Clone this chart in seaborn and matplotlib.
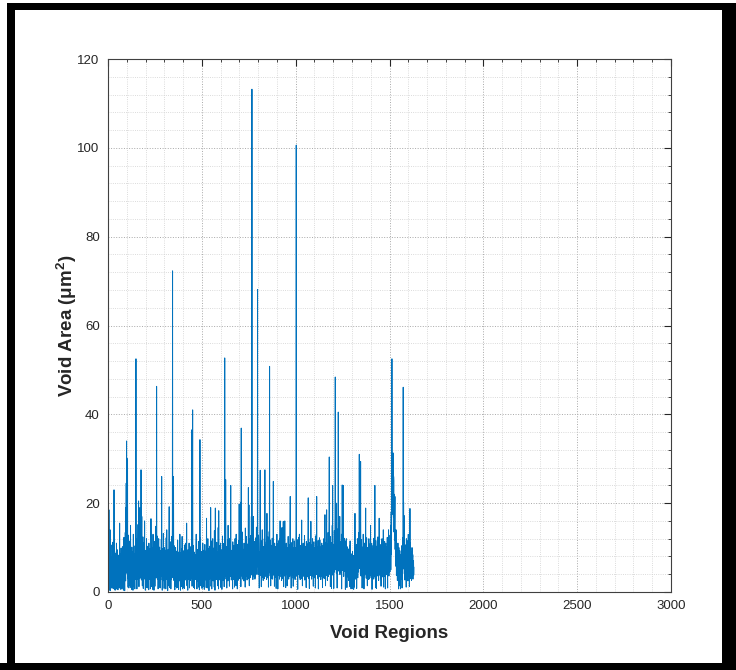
import matplotlib
matplotlib.use("Agg")
import matplotlib.pyplot as plt
import seaborn as sns
import numpy as np
from matplotlib.patches import Rectangle
from matplotlib.ticker import MultipleLocator

# void area per region (um^2), region 1..1630
void_area = [
    14.2, 3.1, 8.5, 1.2, 18.5, 6.3, 0.4, 9.8, 4.1, 2.7, 14.0, 5.2, 0.3, 7.4, 3.3, 10.6, 2.5, 6.1, 0.9, 4.8,
    3.6, 7.9, 0.9, 5.5, 11.2, 1.3, 6.7, 0.8, 4.4, 8.1, 3.0, 23.0, 5.6, 0.6, 9.2, 2.8, 6.4, 0.4, 7.3, 3.9,
    1.1, 5.8, 8.8, 0.7, 11.0, 4.3, 0.7, 6.9, 3.2, 9.5, 1.4, 5.1, 0.5, 7.7, 4.6, 2.9, 8.3, 1.0, 5.9, 3.4,
    6.2, 15.5, 2.6, 4.9, 0.8, 8.6, 3.8, 0.6, 5.3, 9.9, 1.0, 6.6, 4.0, 0.7, 7.1, 3.5, 10.2, 1.2, 5.7, 9.0,
    3.7, 0.4, 6.8, 4.5, 12.3, 2.7, 7.6, 5.0, 0.3, 8.9, 3.1, 13.4, 6.0, 2.5, 19.0, 9.4, 24.5, 11.8, 34.0, 7.2,
    4.2, 9.7, 5.4, 30.0, 3.0, 8.0, 1.1, 6.5, 12.8, 4.7, 0.9, 7.0, 3.6, 9.3, 5.2, 1.4, 11.5, 6.3, 3.3, 15.0,
    5.9, 1.0, 8.4, 4.1, 0.6, 6.8, 10.1, 3.4, 7.5, 2.6, 5.0, 9.1, 0.4, 4.6, 13.0, 6.1, 3.0, 8.7, 1.3, 5.5,
    7.8, 3.9, 0.7, 10.4, 4.8, 2.9, 9.6, 6.2, 52.5, 8.1, 3.5, 12.0, 5.3, 0.7, 7.2, 4.0, 10.8, 2.8, 6.4, 15.2,
    3.2, 8.5, 20.5, 5.7, 1.2, 9.9, 4.4, 11.6, 6.9, 19.0, 3.1, 7.3, 13.7, 5.0, 9.2, 27.5, 6.0, 2.7, 8.2, 17.0,
    4.5, 10.5, 1.4, 6.7, 3.8, 12.4, 5.1, 0.8, 8.8, 4.2, 7.0, 2.9, 11.1, 5.6, 16.0, 3.3, 9.4, 6.1, 0.4, 7.7,
    3.0, 8.1, 5.4, 1.0, 12.0, 6.6, 4.3, 9.0, 0.9, 5.8, 3.7, 10.3, 6.9, 2.5, 7.9, 4.1, 0.5, 11.0, 5.2, 8.4,
    2.8, 6.0, 9.7, 3.4, 5.5, 0.7, 7.4, 4.7, 16.5, 8.6, 3.1, 6.3, 1.2, 10.0, 5.0, 7.8, 3.6, 0.6, 9.1, 13.0,
    4.9, 2.6, 7.1, 5.8, 0.4, 8.9, 3.5, 6.4, 11.4, 1.3, 5.1, 9.5, 4.0, 7.3, 14.8, 3.2, 10.7, 6.0, 46.3, 8.2,
    4.4, 12.6, 2.9, 6.8, 5.3, 9.0, 0.7, 7.5, 3.8, 12.0, 5.9, 1.1, 8.3, 4.6, 10.1, 3.0, 6.7, 0.9, 9.3, 5.4,
    2.7, 7.2, 4.1, 11.9, 6.2, 26.0, 3.6, 8.0, 0.4, 5.7, 9.8, 2.5, 6.9, 4.3, 13.2, 7.6, 3.1, 5.0, 0.8, 10.0,
    4.8, 8.7, 1.2, 6.1, 3.9, 9.4, 5.6, 0.7, 7.0, 12.2, 4.2, 2.8, 14.0, 6.5, 3.3, 8.5, 5.1, 0.3, 7.8, 4.5,
    9.6, 1.4, 6.3, 3.7, 10.9, 19.2, 5.2, 8.1, 1.0, 6.6, 4.0, 11.3, 3.4, 7.4, 0.7, 5.8, 9.1, 2.9, 6.2, 12.5,
    4.7, 8.3, 15.0, 72.3, 6.0, 3.2, 9.9, 5.5, 26.0, 7.1, 2.6, 4.9, 10.4, 3.5, 6.8, 0.5, 8.0, 4.2, 5.6, 10.0,
    1.3, 7.0, 4.4, 9.2, 0.9, 5.9, 3.1, 8.6, 6.4, 1.0, 11.7, 4.6, 7.5, 3.0, 5.3, 0.6, 9.0, 6.1, 3.8, 8.2,
    5.0, 2.5, 13.0, 6.7, 4.1, 0.4, 8.8, 3.6, 7.2, 5.4, 1.2, 9.7, 4.3, 6.0, 12.5, 3.3, 7.9, 0.7, 5.5, 8.4,
    3.0, 6.6, 1.1, 9.3, 4.8, 7.0, 0.8, 5.2, 10.6, 3.9, 6.3, 2.7, 8.1, 4.5, 11.0, 5.8, 3.2, 7.4, 15.5, 6.1,
    1.4, 8.9, 4.0, 5.7, 0.4, 9.5, 3.5, 6.8, 2.9, 7.6, 4.6, 11.0, 5.1, 0.9, 8.0, 3.3, 6.4, 10.2, 2.6, 5.9,
    7.3, 4.2, 9.8, 3.0, 12.4, 36.5, 6.0, 1.3, 8.7, 18.0, 41.0, 5.4, 10.5, 3.8, 7.1, 1.0, 6.5, 4.4, 9.0, 5.0,
    0.7, 7.8, 3.6, 5.5, 8.4, 2.8, 6.2, 4.0, 10.1, 13.0, 3.2, 7.0, 5.7, 0.7, 8.8, 4.5, 6.9, 2.5, 9.6, 3.7,
    5.2, 11.4, 1.1, 7.5, 4.3, 6.6, 0.5, 8.2, 10.0, 34.3, 5.8, 3.0, 12.2, 6.7, 1.4, 4.8, 9.1, 3.5, 7.2, 5.0,
    0.8, 6.3, 3.9, 8.0, 11.0, 4.6, 1.2, 7.7, 5.3, 9.4, 3.1, 6.0, 0.6, 8.5, 4.2, 10.7, 2.7, 5.6, 7.0, 3.4,
    9.2, 4.9, 1.0, 6.8, 16.6, 5.1, 3.6, 8.3, 0.9, 7.4, 4.4, 12.0, 6.1, 2.6, 9.8, 3.3, 5.7, 0.3, 7.9, 4.7,
    10.3, 2.9, 6.5, 3.8, 8.1, 5.0, 19.0, 7.2, 1.3, 4.5, 9.6, 6.3, 0.7, 11.5, 3.7, 5.9, 8.4, 12.0, 4.1, 2.5,
    7.6, 5.3, 3.0, 9.9, 6.0, 1.1, 13.8, 4.8, 7.0, 0.4, 10.1, 18.9, 5.5, 3.4, 8.6, 6.7, 2.8, 4.3, 11.2, 7.3,
    3.1, 5.8, 9.0, 1.4, 6.4, 4.0, 14.5, 7.9, 0.7, 18.3, 5.1, 8.2, 3.5, 6.9, 10.4, 2.7, 4.6, 7.5, 3.2, 11.0,
    5.4, 1.0, 8.7, 6.2, 3.9, 9.5, 0.6, 7.1, 4.7, 12.6, 5.9, 3.3, 8.0, 2.6, 6.5, 10.9, 4.2, 7.7, 1.2, 9.3,
    6.0, 52.7, 14.0, 3.6, 8.8, 5.1, 25.3, 7.4, 2.9, 10.2, 4.5, 6.8, 0.9, 9.0, 3.4, 5.6, 11.8, 7.2, 2.5, 15.0,
    4.3, 8.4, 6.1, 3.0, 9.7, 5.2, 1.3, 7.8, 4.9, 12.1, 6.6, 3.5, 10.0, 24.0, 5.5, 8.1, 2.7, 6.3, 4.1, 9.4,
    3.2, 7.0, 5.8, 0.7, 11.3, 4.4, 8.6, 2.8, 6.7, 10.5, 3.9, 5.3, 7.9, 1.1, 9.2, 4.7, 12.0, 6.0, 3.4, 8.3,
    5.0, 1.4, 13.0, 7.3, 4.0, 9.8, 3.1, 6.5, 0.7, 10.7, 5.6, 8.0, 2.6, 7.1, 4.5, 11.6, 3.7, 6.2, 19.8, 5.4,
    8.9, 3.0, 7.5, 12.3, 4.8, 20.2, 6.4, 1.2, 9.1, 36.9, 5.7, 10.0, 3.6, 7.8, 4.3, 13.5, 6.0, 2.9, 8.4, 5.2,
    3.8, 9.6, 6.8, 2.5, 11.0, 4.6, 7.2, 3.3, 5.9, 10.3, 1.1, 14.4, 6.6, 8.2, 4.0, 9.0, 3.5, 12.5, 5.1, 7.0,
    2.7, 6.3, 10.8, 4.4, 8.0, 3.0, 7.6, 23.5, 5.3, 9.4, 19.6, 6.1, 1.4, 11.9, 4.7, 8.5, 3.2, 10.0, 6.9, 5.0,
    12.7, 3.8, 8.3, 17.0, 6.2, 9.9, 113.2, 7.4, 4.1, 10.6, 5.5, 2.8, 8.7, 14.0, 17.0, 6.0, 3.6, 9.2, 5.1, 11.4,
    4.3, 7.7, 2.9, 10.1, 6.5, 3.4, 8.9, 12.2, 5.2, 7.0, 14.6, 4.0, 9.5, 6.3, 11.0, 8.1, 68.1, 5.7, 10.4, 3.9,
    7.2, 12.8, 4.6, 9.0, 6.1, 0.9, 8.6, 5.3, 10.9, 13.0, 27.4, 6.8, 3.7, 9.3, 5.0, 7.9, 1.2, 11.5, 4.8, 8.4,
    6.0, 14.0, 3.3, 9.7, 5.6, 7.1, 2.6, 10.2, 4.5, 8.0, 6.4, 3.0, 12.0, 5.2, 9.1, 27.5, 7.5, 4.1, 10.6, 6.2,
    3.5, 8.8, 5.7, 11.3, 2.8, 7.3, 17.7, 4.9, 9.6, 6.0, 3.2, 12.4, 5.4, 8.1, 1.1, 10.0, 6.7, 4.3, 13.6, 7.8,
    50.8, 5.0, 9.4, 3.6, 11.7, 6.9, 1.4, 8.2, 4.7, 10.5, 6.1, 3.0, 9.0, 5.5, 12.1, 7.4, 2.9, 8.6, 4.2, 10.9,
    24.9, 6.4, 3.8, 9.7, 5.1, 7.7, 1.3, 11.0, 4.6, 8.4, 6.0, 3.3, 10.2, 5.8, 7.0, 0.8, 9.5, 4.4, 6.8, 13.0,
    3.1, 8.0, 5.3, 10.8, 0.7, 7.2, 4.9, 9.3, 6.1, 3.7, 11.6, 5.6, 8.5, 2.9, 12.0, 6.7, 16.0, 4.2, 9.0, 5.0,
    7.5, 3.4, 10.1, 6.2, 2.6, 8.8, 14.5, 4.8, 9.6, 5.5, 3.0, 7.9, 11.2, 15.9, 6.3, 1.2, 8.4, 4.6, 10.3, 5.9,
    3.6, 16.0, 7.1, 4.3, 9.0, 5.8, 1.0, 8.2, 6.5, 11.0, 3.9, 7.6, 5.0, 10.0, 1.4, 6.8, 4.1, 9.4, 3.2, 12.5,
    5.7, 8.3, 2.9, 7.0, 4.5, 10.6, 6.2, 3.5, 9.2, 13.0, 21.5, 5.3, 8.8, 4.0, 7.3, 0.9, 11.1, 6.0, 3.1, 9.0,
    5.1, 7.8, 3.8, 10.4, 12.0, 6.6, 1.3, 8.5, 4.9, 9.9, 5.6, 3.2, 11.5, 7.0, 4.4, 8.1, 2.8, 6.3, 10.0, 5.4,
    8.6, 14.0, 100.6, 6.1, 3.6, 9.3, 5.2, 11.8, 4.0, 7.4, 0.6, 10.7, 6.8, 3.9, 8.2, 5.0, 12.3, 4.6, 7.1, 13.0,
    3.3, 9.0, 6.0, 2.8, 8.4, 5.5, 10.5, 4.2, 7.7, 3.0, 11.0, 16.2, 6.4, 9.1, 4.8, 1.4, 7.9, 5.7, 10.0, 11.0,
    4.1, 8.0, 6.3, 3.5, 9.6, 5.0, 12.7, 2.7, 7.2, 4.6, 10.3, 6.9, 3.2, 8.5, 5.4, 1.0, 11.4, 7.0, 4.3, 9.2,
    6.1, 3.4, 10.8, 5.8, 8.7, 13.5, 21.2, 4.5, 7.5, 3.0, 9.8, 6.0, 0.8, 11.1, 5.2, 8.3, 4.0, 12.0, 6.6, 3.7,
    15.9, 7.3, 4.7, 9.5, 2.9, 6.4, 10.6, 5.0, 8.1, 12.0, 3.6, 7.8, 5.5, 1.3, 9.2, 6.2, 11.3, 4.1, 8.0, 3.2,
    6.9, 10.0, 4.8, 7.4, 0.9, 9.0, 5.6, 12.6, 3.9, 13.0, 8.5, 21.5, 6.3, 4.4, 10.2, 7.0, 3.1, 8.8, 5.3, 11.6,
    0.7, 7.6, 4.9, 9.7, 6.0, 3.4, 12.2, 5.1, 11.7, 8.3, 4.2, 10.1, 6.7, 2.8, 9.4, 5.7, 7.1, 3.6, 11.0, 4.5,
    8.0, 6.2, 1.0, 10.4, 5.4, 7.8, 3.3, 9.1, 4.6, 12.0, 6.5, 3.0, 8.7, 5.0, 10.7, 17.4, 4.1, 7.3, 1.4, 9.6,
    5.8, 11.2, 3.7, 8.2, 18.5, 6.1, 4.3, 9.9, 2.6, 7.5, 10.8, 5.2, 13.4, 3.5, 8.6, 6.4, 11.9, 16.0, 30.4, 7.0,
    4.0, 9.2, 5.9, 12.5, 1.2, 7.7, 10.3, 4.8, 8.4, 6.0, 0.8, 11.1, 5.4, 9.5, 15.0, 6.8, 24.0, 3.8, 8.1, 5.1,
    10.6, 7.2, 0.8, 9.0, 6.3, 13.8, 4.5, 11.4, 8.0, 17.0, 48.4, 6.6, 10.1, 5.0, 12.0, 7.9, 4.2, 20.0, 9.3, 6.0,
    0.9, 11.0, 7.4, 5.2, 14.2, 8.8, 40.5, 6.1, 10.0, 4.7, 9.1, 12.6, 5.5, 7.7, 17.0, 3.9, 8.5, 6.2, 11.3, 4.4,
    9.8, 5.8, 7.0, 13.0, 0.7, 8.9, 6.5, 24.1, 10.4, 4.9, 7.6, 11.8, 5.3, 24.0, 8.2, 3.5, 9.4, 6.0, 12.1, 4.6,
    7.3, 10.0, 5.1, 8.7, 0.6, 6.8, 11.5, 4.3, 9.0, 12.0, 5.6, 7.9, 1.0, 10.2, 6.3, 4.0, 8.4, 3.4, 7.1, 9.7,
    5.0, 2.6, 8.0, 4.4, 6.9, 3.1, 10.5, 5.7, 1.2, 11.5, 4.8, 7.4, 3.6, 6.1, 0.7, 8.6, 4.0, 2.8, 7.0, 3.3,
    5.5, 0.8, 9.1, 3.9, 6.4, 1.4, 4.6, 8.2, 0.6, 5.9, 3.0, 7.6, 1.1, 10.0, 4.2, 17.7, 6.7, 2.9, 5.1, 8.8,
    3.5, 7.2, 5.0, 10.7, 0.8, 6.5, 4.1, 9.3, 12.0, 5.6, 3.2, 8.0, 6.9, 11.2, 4.5, 7.8, 13.4, 9.0, 31.0, 6.2,
    10.4, 5.3, 8.6, 12.5, 4.0, 29.4, 7.1, 3.6, 9.7, 6.0, 11.8, 4.8, 8.3, 0.9, 7.0, 10.1, 5.5, 3.3, 8.9, 13.0,
    6.4, 4.1, 9.4, 0.7, 7.7, 5.0, 11.0, 3.8, 8.2, 6.6, 4.3, 10.6, 18.9, 5.7, 9.0, 3.1, 7.3, 12.2, 4.6, 8.0,
    5.2, 1.4, 10.0, 6.8, 3.5, 8.7, 4.9, 7.1, 2.8, 12.0, 5.9, 9.3, 3.0, 6.2, 10.8, 4.4, 7.6, 3.7, 15.0, 5.4,
    8.1, 3.2, 6.7, 4.0, 11.0, 7.4, 0.6, 9.6, 5.1, 3.9, 8.4, 6.0, 10.5, 4.7, 7.2, 2.9, 12.1, 5.6, 8.8, 3.4,
    6.5, 24.0, 9.9, 4.3, 7.0, 1.0, 11.6, 5.8, 8.2, 0.8, 6.9, 10.3, 4.5, 7.7, 3.6, 9.1, 5.3, 12.4, 6.1, 4.0,
    8.5, 2.6, 7.3, 5.0, 16.6, 3.8, 9.4, 6.4, 4.2, 10.7, 7.9, 3.0, 8.1, 5.5, 1.3, 9.7, 6.2, 11.2, 4.6, 12.0,
    7.0, 3.4, 8.8, 5.2, 10.1, 4.1, 14.0, 6.6, 1.1, 9.0, 5.7, 3.5, 7.6, 11.4, 4.4, 8.3, 6.0, 0.7, 9.8, 11.0,
    5.1, 7.4, 3.9, 10.2, 6.3, 4.0, 8.9, 12.3, 5.6, 0.9, 9.5, 7.1, 4.7, 11.0, 14.0, 6.8, 3.6, 8.0, 10.6, 5.3,
    7.9, 4.5, 12.8, 6.2, 9.7, 15.0, 5.0, 11.3, 18.0, 8.4, 14.6, 20.2, 52.5, 24.0, 17.5, 31.0, 19.0, 28.0, 22.4, 31.3,
    16.8, 26.0, 25.0, 13.5, 20.0, 22.0, 11.7, 18.2, 21.5, 9.6, 14.0, 7.2, 12.4, 5.8, 14.0, 8.3, 3.7, 10.2, 6.1, 4.4,
    9.0, 2.6, 7.4, 5.1, 11.0, 3.3, 8.2, 0.7, 6.5, 10.0, 4.0, 7.7, 1.4, 5.6, 9.3, 3.0, 6.9, 0.7, 8.4, 4.8,
    2.8, 7.1, 5.3, 10.4, 3.6, 6.2, 0.9, 8.7, 4.5, 12.2, 6.0, 9.5, 46.1, 5.2, 20.3, 7.8, 12.0, 17.2, 4.1, 9.0,
    6.3, 2.7, 8.0, 4.6, 10.6, 3.4, 7.3, 5.5, 1.1, 12.0, 6.8, 4.0, 9.2, 3.1, 7.6, 11.5, 5.0, 2.5, 8.8, 13.0,
    4.3, 7.0, 3.6, 9.7, 5.9, 1.2, 11.2, 6.6, 18.8, 8.1, 4.7, 10.0, 3.0, 7.5, 5.4, 9.1, 2.6, 6.2, 4.0, 10.0,
    3.3, 6.8, 5.1, 8.4, 2.9, 7.0, 4.5, 7.0, 3.8, 5.6,
]
region = np.arange(1, len(void_area) + 1)

x_ticks = [0, 500, 1000, 1500, 2000, 2500, 3000]
y_ticks = [0, 20, 40, 60, 80, 100, 120]

sns.set_style("white")
plt.rcParams["font.family"] = ["Liberation Sans", "DejaVu Sans"]
plt.rcParams["mathtext.fontset"] = "custom"
plt.rcParams["mathtext.rm"] = "Liberation Sans"
plt.rcParams["mathtext.bf"] = "Liberation Sans:bold"

fig = plt.figure(figsize=(7.36, 6.70), dpi=100)
ax = fig.add_axes([108 / 736, 78 / 670, 563 / 736, 533 / 670])

sns.lineplot(x=region, y=void_area, ax=ax, color="#0072BD", linewidth=0.7, estimator=None)

ax.set_xlim(0, 3000)
ax.set_ylim(0, 120)
ax.set_xticks(x_ticks)
ax.set_yticks(y_ticks)
ax.xaxis.set_minor_locator(MultipleLocator(100))
ax.yaxis.set_minor_locator(MultipleLocator(4))

ax.grid(which="major", linestyle=":", color="#a8a8a8", linewidth=0.7)
ax.grid(which="minor", linestyle=":", color="#cfcfcf", linewidth=0.6)
ax.set_axisbelow(True)

ax.tick_params(which="both", direction="in", top=True, right=True, colors="#262626",
               labelsize=9.5, pad=6)
ax.tick_params(which="major", length=5, width=0.8)
ax.tick_params(which="minor", length=2.5, width=0.6)
for s in ax.spines.values():
    s.set_color("#404040")
    s.set_linewidth(0.8)

ax.set_xlabel("Void Regions", fontsize=13.5, fontweight="bold", color="#262626", labelpad=9)
ax.set_ylabel(r"Void Area (μm$^\mathbf{2}$)", fontsize=13.5, fontweight="bold", color="#262626", labelpad=-1)

# black picture frame
W, H = 736, 670
frame = [(7, 3, 729, 7), (7, 3, 8, 660), (722, 3, 14, 660), (0, 663, 736, 7)]
for x0, y0, w, h in frame:
    fig.add_artist(Rectangle((x0 / W, 1 - (y0 + h) / H), w / W, h / H, transform=fig.transFigure,
                             facecolor="black", edgecolor="none"))

fig.savefig("out.png", dpi=100)
plt.close(fig)
